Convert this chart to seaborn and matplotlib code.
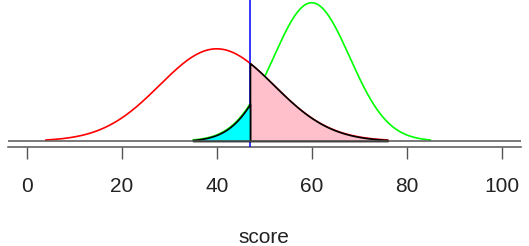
import numpy as np
import pandas as pd
import matplotlib
matplotlib.use("Agg")
import matplotlib.pyplot as plt
import seaborn as sns

# ---- data ----
groups = ["A", "B"]
means = [40, 60]
sds = [12, 8]
x_from = [4, 35]
x_to = [76, 85]
curve_colors = ["#ff0000", "#00ff00"]
cutoff = 47
tick_values = [0, 20, 40, 60, 80, 100]
tick_labels = ["0", "20", "40", "60", "80", "100"]
x_label = "score"


def density(x, m, s):
    return np.exp(-0.5 * ((x - m) / s) ** 2) / (s * np.sqrt(2 * np.pi))


rows = []
for g, m, s, a, b in zip(groups, means, sds, x_from, x_to):
    xs = np.linspace(a, b, 400)
    rows.append(pd.DataFrame({"score": xs, "density": density(xs, m, s), "group": g}))
df = pd.concat(rows, ignore_index=True)

sns.set_theme(style="white")
plt.rcParams["font.family"] = ["Liberation Sans", "DejaVu Sans"]

fig = plt.figure(figsize=(5.29, 2.46), dpi=100)
ax = fig.add_axes([7.7 / 529, 1 - 147.3 / 246, (520.7 - 7.7) / 529, 147.3 / 246])

sns.lineplot(data=df, x="score", y="density", hue="group", palette=curve_colors,
             legend=False, ax=ax, linewidth=1.2, zorder=2)

ax.axvline(cutoff, color="#0000ff", lw=1.1, zorder=3)

# pink: right tail of first curve beyond cutoff
d0 = df[(df.group == groups[0]) & (df.score >= cutoff)]
xs0 = np.concatenate([[cutoff], d0.score.values])
ys0 = np.concatenate([[density(cutoff, means[0], sds[0])], d0.density.values])
ax.fill_between(xs0, 0, ys0, facecolor="#ffc0cb", edgecolor="black", lw=1.2, zorder=4)

# cyan: left tail of second curve below cutoff
d1 = df[(df.group == groups[1]) & (df.score <= cutoff)]
xs1 = np.concatenate([d1.score.values, [cutoff]])
ys1 = np.concatenate([d1.density.values, [density(cutoff, means[1], sds[1])]])
ax.fill_between(xs1, 0, ys1, facecolor="#00ffff", edgecolor="black", lw=1.2, zorder=4)

ax.axhline(0, color="#555555", lw=1.1, zorder=5)

ymax_px = 141 / 2773
ymin_px = -(147.3 - 141) / 2773
ax.set_xlim(-4, 104)
ax.set_ylim(ymin_px, ymax_px)

for sp in ["top", "left", "right"]:
    ax.spines[sp].set_visible(False)
ax.spines["bottom"].set_color("#555555")
ax.spines["bottom"].set_linewidth(1.1)

ax.set_xticks(tick_values)
ax.set_xticklabels(tick_labels)
ax.set_yticks([])
ax.tick_params(axis="x", direction="out", length=8.6, width=1.0, color="#555555",
               labelsize=15, labelcolor="#222222", pad=13, bottom=True)
ax.set_xlabel(x_label, fontsize=15, color="#222222", labelpad=23)
ax.set_ylabel("")

fig.savefig("out.png", dpi=100)
